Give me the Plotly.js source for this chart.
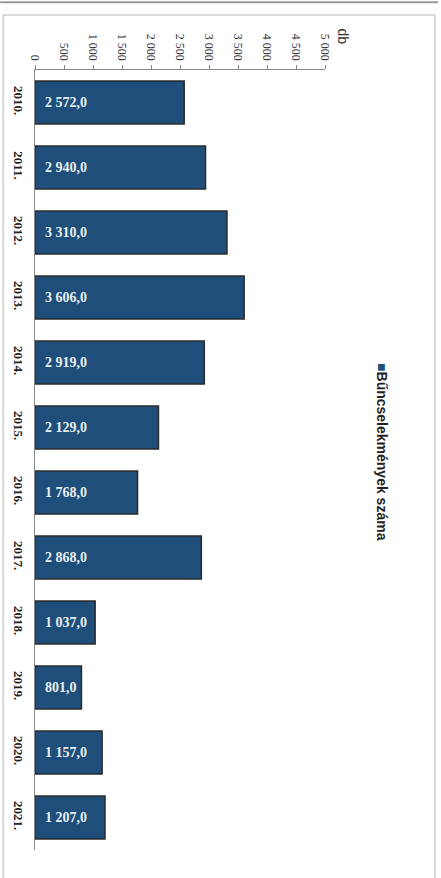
<!DOCTYPE html>
<html>
<head>
<meta charset="utf-8">
<script src="https://cdn.plot.ly/plotly-3.0.1.min.js"></script>
<style>html,body{margin:0;padding:0;background:#fff;}#chart{width:441px;height:878px;}</style>
</head>
<body>
<div id="chart"></div>
<script>
const years = ["2010.","2011.","2012.","2013.","2014.","2015.","2016.","2017.","2018.","2019.","2020.","2021."];
const crimes = [2572,2940,3310,3606,2919,2129,1768,2868,1037,801,1157,1207];
const valueTicks = [0,500,1000,1500,2000,2500,3000,3500,4000,4500,5000];
const seriesName = "Bűncselekmények száma";
const unitLabel = "db";

const serif = "Liberation Serif, Times New Roman, serif";
const sans = "Liberation Sans, Arial, sans-serif";

const trace = {
  type: "bar",
  orientation: "h",
  y: years,
  x: crimes,
  name: seriesName,
  width: 0.66,
  marker: {color: "#1e4e79", line: {color: "#2b2b2b", width: 1.5}},
  texttemplate: "&nbsp;&nbsp;%{x:,.1f}",
  textposition: "inside",
  insidetextanchor: "start",
  textangle: 0,
  constraintext: "none",
  textfont: {family: serif, size: 14, color: "#e9eef2", weight: "bold"},
  hoverinfo: "skip"
};

const layout = {
  width: 441, height: 878,
  margin: {l: 35, r: 116, t: 70, b: 28},
  paper_bgcolor: "#ffffff",
  plot_bgcolor: "#ffffff",
  separators: ", ",
  showlegend: false,
  xaxis: {
    side: "top",
    range: [0, 5000],
    tickvals: valueTicks,
    tickformat: ",d",
    tickangle: 90,
    showgrid: false,
    zeroline: false,
    showline: true,
    linecolor: "#8a8a8a",
    linewidth: 1,
    ticks: "outside",
    ticklen: 4,
    tickcolor: "#8a8a8a",
    tickfont: {family: serif, size: 12, color: "#333"},
    fixedrange: true
  },
  yaxis: {
    type: "category",
    autorange: "reversed",
    tickangle: 90,
    showgrid: false,
    zeroline: false,
    showline: true,
    linecolor: "#8a8a8a",
    linewidth: 1.5,
    ticks: "",
    ticklabelstandoff: 4,
    tickfont: {family: serif, size: 13, color: "#222", weight: "bold"},
    fixedrange: true
  },
  annotations: [
    {text: unitLabel, xref: "paper", yref: "paper", x: 1.062, y: 1.043, xanchor: "center", yanchor: "middle",
     textangle: 90, showarrow: false, font: {family: sans, size: 14, color: "#333"}},
    {text: '<span style="color:#1e4e79">■</span>' + seriesName, xref: "paper", yref: "paper",
     x: 1.197, y: 0.51, xanchor: "center", yanchor: "middle", textangle: 90, showarrow: false,
     font: {family: sans, size: 14, color: "#222", weight: "bold"}}
  ],
  shapes: [
    {type: "rect", xref: "paper", yref: "paper", x0: -0.11, x1: 1.379, y0: -0.05, y1: 1.0705,
     line: {color: "#b5b5b5", width: 1}, layer: "below"},
    {type: "line", xref: "paper", yref: "paper", x0: -0.12, x1: 1.39, y0: 1.087, y1: 1.087,
     line: {color: "#9a9a9a", width: 2}, layer: "below"}
  ]
};

Plotly.newPlot("chart", [trace], layout, {displayModeBar: false, staticPlot: true});
</script>
</body>
</html>
